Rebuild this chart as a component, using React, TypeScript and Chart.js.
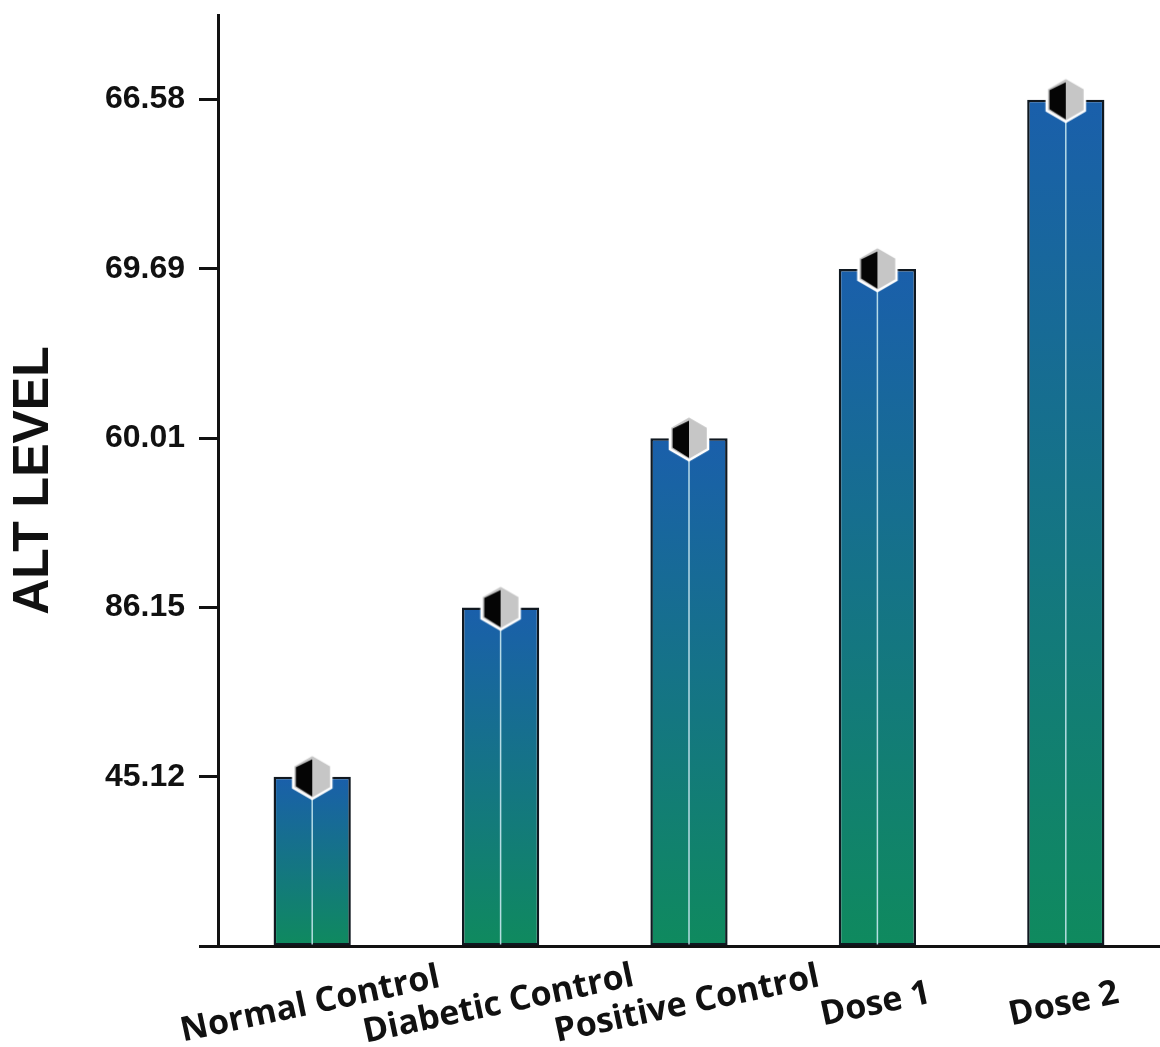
import { useEffect, useRef } from 'react';
import { Chart, registerables } from 'chart.js';

Chart.register(...registerables);

// Groups along the x axis
const groups = ['Normal Control', 'Diabetic Control', 'Positive Control', 'Dose 1', 'Dose 2'];
// ALT level per group
const altLevels = [45.12, 86.15, 60.01, 69.69, 66.58];
// Labels printed on the y axis, from the bottom tick to the top tick
const axisLabels = ['45.12', '86.15', '60.01', '69.69', '66.58'];
const axisTitle = 'ALT LEVEL';

// The y axis is an ordinal ladder: each value sits on the tick that carries its label
const rungOf = (v: number) => axisLabels.indexOf(v.toFixed(2)) + 1;

const BAR_TOP = '#1a5fab';
const BAR_BOTTOM = '#0f8a5e';
const INK = '#111111';

// Half-black / half-grey hexagon used as the marker on top of each bar
function makeHexMarker(r: number): HTMLCanvasElement {
  const size = Math.ceil(r * 2 + 6);
  const c = document.createElement('canvas');
  c.width = size;
  c.height = size;
  const g = c.getContext('2d')!;
  const cx = size / 2;
  const cy = size / 2;
  const pts: [number, number][] = [];
  for (let i = 0; i < 6; i++) {
    const a = -Math.PI / 2 + (i * Math.PI) / 3;
    pts.push([cx + r * Math.cos(a), cy + r * Math.sin(a)]);
  }
  g.beginPath();
  pts.forEach(([x, y], i) => (i ? g.lineTo(x, y) : g.moveTo(x, y)));
  g.closePath();
  g.fillStyle = '#c6c6c6';
  g.fill();
  g.lineWidth = 2.5;
  g.strokeStyle = '#ffffff';
  g.stroke();
  // left half (top, bottom, lower-left, upper-left), slightly inset
  const inset = (p: [number, number], k: number): [number, number] => [cx + (p[0] - cx) * k, cy + (p[1] - cy) * k];
  const left = [inset(pts[0], 0.8), inset(pts[3], 0.9), inset(pts[4], 0.86), inset(pts[5], 0.86)];
  g.beginPath();
  g.moveTo(cx, left[0][1]);
  g.lineTo(cx, left[1][1]);
  g.lineTo(left[2][0], left[2][1]);
  g.lineTo(left[3][0], left[3][1]);
  g.closePath();
  g.fillStyle = '#050505';
  g.fill();
  return c;
}

const barFill = (c: any) => {
  const chart = c.chart;
  const ys = chart.scales?.y;
  if (!chart.chartArea || !ys || c.type !== 'data' || !c.parsed) return BAR_TOP;
  const top = ys.getPixelForValue(c.parsed.y);
  const bottom = ys.getPixelForValue(0);
  const grad = chart.ctx.createLinearGradient(0, top, 0, bottom);
  grad.addColorStop(0, BAR_TOP);
  grad.addColorStop(1, BAR_BOTTOM);
  return grad;
};

// Thin light line running down the middle of each bar
const barSpine = {
  id: 'barSpine',
  afterDatasetDraw(chart: any, args: any) {
    if (args.index !== 0) return;
    const ctx = chart.ctx;
    const meta = chart.getDatasetMeta(0);
    ctx.save();
    ctx.strokeStyle = 'rgba(200,232,240,0.9)';
    ctx.lineWidth = 1.5;
    meta.data.forEach((el: any) => {
      const { x, y, base } = el.getProps(['x', 'y', 'base'], true);
      ctx.beginPath();
      ctx.moveTo(x, y);
      ctx.lineTo(x, base - 1);
      ctx.stroke();
    });
    ctx.restore();
  },
};

// Tilted, centred group names under the bars
const groupLabels = {
  id: 'groupLabels',
  afterDraw(chart: any) {
    const xs = chart.scales.x;
    const ctx = chart.ctx;
    const yb = chart.chartArea.bottom + 68;
    ctx.save();
    ctx.font = 'bold 34px "Open Sans"';
    ctx.fillStyle = INK;
    ctx.textAlign = 'center';
    ctx.textBaseline = 'alphabetic';
    groups.forEach((name, i) => {
      const px = xs.getPixelForValue(i);
      ctx.save();
      ctx.translate(px, yb);
      ctx.rotate((-12 * Math.PI) / 180);
      ctx.fillText(name, 0, 0);
      ctx.restore();
    });
    ctx.restore();
  },
};

export default function App() {
  const ref = useRef<HTMLCanvasElement | null>(null);

  useEffect(() => {
    document.body.style.margin = '0';
    const canvas = ref.current;
    if (!canvas) return;
    const rungs = altLevels.map(rungOf);
    const chart = new Chart(canvas, {
      type: 'bar',
      data: {
        labels: groups,
        datasets: [
          {
            type: 'bar',
            data: rungs,
            backgroundColor: barFill,
            borderColor: '#101820',
            borderWidth: 2.5,
            borderSkipped: false,
            barPercentage: 0.41,
            categoryPercentage: 1,
            order: 2,
          } as any,
          {
            type: 'line',
            data: rungs,
            showLine: false,
            pointStyle: makeHexMarker(22),
            pointRadius: 22,
            clip: false,
            order: 1,
          } as any,
        ],
      },
      options: {
        animation: false,
        responsive: true,
        maintainAspectRatio: false,
        layout: { autoPadding: false, padding: { top: 15, right: 0, bottom: 101, left: 0 } },
        plugins: { legend: { display: false }, tooltip: { enabled: false } },
        scales: {
          x: {
            ticks: { display: false },
            grid: { display: true, drawOnChartArea: false, drawTicks: false },
            border: { color: INK, width: 3 },
          },
          y: {
            min: 0,
            max: 5.5,
            afterBuildTicks: (s: any) => {
              s.ticks = [0, 1, 2, 3, 4, 5].map((v) => ({ value: v }));
            },
            afterFit: (s: any) => {
              s.width = 218;
              s.paddingTop = 0;
              s.paddingBottom = 0;
            },
            ticks: {
              callback: (v: any) => (v === 0 ? '' : axisLabels[v - 1]),
              font: { family: '"Liberation Sans", Arial, sans-serif', size: 32, weight: 'bold' },
              color: INK,
              padding: 14,
            },
            grid: { drawOnChartArea: false, drawTicks: true, tickLength: 19, tickWidth: 3, color: INK },
            border: { color: INK, width: 3 },
            title: {
              display: true,
              text: axisTitle,
              color: INK,
              font: { family: '"Liberation Sans", Arial, sans-serif', size: 50, weight: 'bold' },
              padding: { top: 4, bottom: 0 },
            },
          },
        },
      },
      plugins: [barSpine, groupLabels],
    });
    return () => chart.destroy();
  }, []);

  return (
    <div style={{ position: 'relative', width: 1160, height: 1047 }}>
      <canvas ref={ref} />
    </div>
  );
}
